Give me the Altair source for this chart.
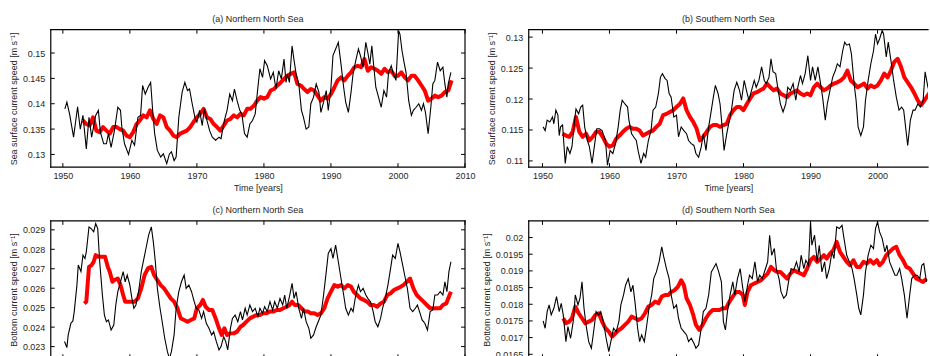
import altair as alt
import pandas as pd

# ---------------- data (year, speed) ----------------
A_BLACK = [(1950.3,0.1390),(1950.6,0.1403),(1951.0,0.1380),(1951.6,0.1334),(1952.2,0.1394),(1952.6,0.1350),
(1953.0,0.1377),(1953.5,0.1311),(1953.9,0.1373),(1954.3,0.1334),(1954.9,0.1377),(1955.3,0.1387),(1955.6,0.1344),
(1956.1,0.1321),(1956.5,0.1321),(1956.8,0.1341),(1957.2,0.1314),(1957.7,0.1347),(1958.2,0.1393),(1958.6,0.1387),
(1958.8,0.1354),(1959.2,0.1321),(1959.8,0.1300),(1960.3,0.1328),(1960.7,0.1318),(1961.2,0.1373),(1961.6,0.1377),
(1961.9,0.1436),(1962.3,0.1419),(1962.7,0.1432),(1963.1,0.1442),(1963.4,0.1387),(1963.7,0.1341),(1964.1,0.1308),
(1964.6,0.1295),(1965.0,0.1301),(1965.5,0.1282),(1965.9,0.1301),(1966.2,0.1305),(1966.6,0.1288),(1966.9,0.1295),
(1967.3,0.1373),(1967.8,0.1423),(1968.2,0.1442),(1968.6,0.1426),(1968.9,0.1429),(1969.3,0.1400),(1969.7,0.1373),
(1970.0,0.1364),(1970.4,0.1387),(1970.8,0.1357),(1971.1,0.1390),(1971.5,0.1367),(1971.9,0.1347),(1972.3,0.1334),
(1972.8,0.1328),(1973.3,0.1334),(1973.6,0.1331),(1974.1,0.1367),(1974.5,0.1387),(1974.9,0.1419),(1975.3,0.1406),
(1975.6,0.1429),(1976.0,0.1406),(1976.4,0.1387),(1976.7,0.1380),(1977.1,0.1341),(1977.5,0.1334),(1977.9,0.1360),
(1978.3,0.1367),(1978.7,0.1380),(1979.1,0.1432),(1979.4,0.1469),(1979.8,0.1452),(1980.1,0.1485),(1980.5,0.1475),
(1981.0,0.1449),(1981.4,0.1462),(1981.8,0.1429),(1982.2,0.1465),(1982.6,0.1449),(1983.0,0.1488),(1983.3,0.1442),
(1983.5,0.1459),(1983.8,0.1442),(1984.2,0.1514),(1984.5,0.1485),(1984.8,0.1459),(1985.2,0.1439),(1985.6,0.1387),
(1985.9,0.1373),(1986.3,0.1350),(1986.7,0.1354),(1987.0,0.1400),(1987.4,0.1413),(1987.8,0.1439),(1988.2,0.1423),
(1988.5,0.1383),(1988.9,0.1403),(1989.3,0.1426),(1989.6,0.1387),(1990.0,0.1432),(1990.3,0.1495),(1990.7,0.1508),
(1991.1,0.1521),(1991.5,0.1478),(1991.9,0.1432),(1992.2,0.1403),(1992.6,0.1383),(1993.0,0.1423),(1993.3,0.1459),
(1993.7,0.1485),(1994.1,0.1508),(1994.4,0.1495),(1994.8,0.1472),(1995.2,0.1521),(1995.5,0.1501),(1995.8,0.1478),
(1996.1,0.1514),(1996.4,0.1472),(1996.7,0.1432),(1997.1,0.1413),(1997.5,0.1393),(1997.9,0.1426),(1998.3,0.1413),
(1998.6,0.1462),(1999.0,0.1475),(1999.3,0.1459),(1999.7,0.1446),(2000.1,0.1544),(2000.3,0.1537),(2000.6,0.1505),
(2000.9,0.1482),(2001.2,0.1462),(2001.6,0.1406),(2002.0,0.1377),(2002.3,0.1387),(2002.7,0.1393),(2003.1,0.1400),
(2003.5,0.1387),(2003.8,0.1400),(2004.1,0.1383),(2004.5,0.1341),(2004.9,0.1393),(2005.2,0.1439),(2005.5,0.1446),
(2005.9,0.1482),(2006.3,0.1465),(2006.7,0.1472),(2007.0,0.1439),(2007.3,0.1413),(2007.5,0.1439),(2007.9,0.1462)]

A_RED = [(1953.0,0.1367),(1953.5,0.1360),(1954.0,0.1357),(1954.5,0.1373),(1955.0,0.1347),(1955.5,0.1344),
(1956.0,0.1354),(1956.5,0.1347),(1957.0,0.1341),(1957.5,0.1354),(1958.0,0.1354),(1958.5,0.1350),(1959.0,0.1347),
(1959.5,0.1337),(1960.0,0.1334),(1960.5,0.1344),(1961.0,0.1360),(1961.5,0.1367),(1962.0,0.1377),(1962.5,0.1373),
(1963.0,0.1387),(1963.5,0.1370),(1964.0,0.1360),(1964.5,0.1377),(1965.0,0.1373),(1965.5,0.1354),(1966.0,0.1347),
(1966.5,0.1337),(1967.0,0.1334),(1967.5,0.1341),(1968.0,0.1344),(1968.5,0.1347),(1969.0,0.1354),(1969.5,0.1364),
(1970.0,0.1373),(1970.5,0.1380),(1971.0,0.1390),(1971.5,0.1373),(1972.0,0.1370),(1972.5,0.1360),(1973.0,0.1354),
(1973.5,0.1347),(1974.0,0.1357),(1974.5,0.1367),(1975.0,0.1370),(1975.5,0.1377),(1976.0,0.1373),(1976.5,0.1380),
(1977.0,0.1377),(1977.5,0.1390),(1978.0,0.1390),(1978.5,0.1396),(1979.0,0.1406),(1979.5,0.1413),(1980.0,0.1410),
(1980.5,0.1413),(1981.0,0.1426),(1981.5,0.1429),(1982.0,0.1436),(1982.5,0.1442),(1983.0,0.1449),(1983.5,0.1455),
(1984.0,0.1459),(1984.5,0.1462),(1985.0,0.1439),(1985.5,0.1436),(1986.0,0.1429),(1986.5,0.1423),(1987.0,0.1429),
(1987.5,0.1426),(1988.0,0.1416),(1988.5,0.1406),(1989.0,0.1413),(1989.5,0.1410),(1990.0,0.1419),(1990.5,0.1432),
(1991.0,0.1446),(1991.5,0.1452),(1992.0,0.1446),(1992.5,0.1455),(1993.0,0.1462),(1993.5,0.1472),(1994.0,0.1475),
(1994.5,0.1472),(1995.0,0.1488),(1995.5,0.1465),(1996.0,0.1472),(1996.5,0.1469),(1997.0,0.1465),(1997.5,0.1459),
(1998.0,0.1469),(1998.5,0.1462),(1999.0,0.1465),(1999.5,0.1455),(2000.0,0.1455),(2000.5,0.1462),(2001.0,0.1452),
(2001.5,0.1446),(2002.0,0.1455),(2002.5,0.1455),(2003.0,0.1446),(2003.5,0.1436),(2004.0,0.1426),(2004.5,0.1406),
(2005.0,0.1410),(2005.5,0.1416),(2006.0,0.1413),(2006.5,0.1416),(2007.0,0.1423),(2007.5,0.1426),(2008.0,0.1446)]

B_BLACK = [(1950.1,0.1155),(1950.4,0.1149),(1950.7,0.1166),(1951.1,0.1163),(1951.5,0.1171),(1951.7,0.1160),
(1952.0,0.1182),(1952.3,0.1174),(1952.5,0.1141),(1952.7,0.1155),(1953.0,0.1158),(1953.4,0.1096),(1953.7,0.1123),
(1954.1,0.1112),(1954.4,0.1123),(1954.8,0.1166),(1955.0,0.1184),(1955.4,0.1176),(1955.7,0.1187),(1956.0,0.1190),
(1956.3,0.1155),(1956.7,0.1133),(1957.0,0.1123),(1957.4,0.1096),(1957.8,0.1128),(1958.1,0.1152),(1958.5,0.1152),
(1958.9,0.1149),(1959.4,0.1133),(1959.7,0.1093),(1960.1,0.1117),(1960.5,0.1112),(1960.9,0.1128),(1961.3,0.1155),
(1961.6,0.1182),(1961.9,0.1198),(1962.3,0.1192),(1962.7,0.1187),(1962.9,0.1166),(1963.3,0.1144),(1963.6,0.1139),
(1964.0,0.1133),(1964.3,0.1115),(1964.7,0.1096),(1965.1,0.1112),(1965.4,0.1106),(1965.8,0.1133),(1966.2,0.1149),
(1966.5,0.1182),(1966.9,0.1187),(1967.3,0.1209),(1967.6,0.1235),(1967.9,0.1241),(1968.3,0.1233),(1968.6,0.1230),
(1968.9,0.1209),(1969.2,0.1203),(1969.6,0.1171),(1970.0,0.1174),(1970.3,0.1139),(1970.7,0.1155),(1971.1,0.1149),
(1971.5,0.1144),(1971.8,0.1133),(1972.2,0.1128),(1972.6,0.1125),(1972.9,0.1112),(1973.3,0.1106),(1973.7,0.1123),
(1974.0,0.1144),(1974.4,0.1117),(1974.8,0.1155),(1975.2,0.1182),(1975.5,0.1203),(1975.8,0.1222),(1976.2,0.1209),
(1976.5,0.1192),(1976.9,0.1144),(1977.1,0.1117),(1977.5,0.1144),(1977.9,0.1166),(1978.2,0.1182),(1978.6,0.1214),
(1979.0,0.1227),(1979.4,0.1214),(1979.7,0.1198),(1980.1,0.1230),(1980.5,0.1211),(1980.8,0.1198),(1981.2,0.1214),
(1981.6,0.1230),(1981.9,0.1219),(1982.3,0.1230),(1982.7,0.1252),(1983.1,0.1230),(1983.4,0.1225),(1983.8,0.1235),
(1984.1,0.1265),(1984.4,0.1244),(1984.8,0.1241),(1985.1,0.1219),(1985.5,0.1192),(1985.9,0.1179),(1986.3,0.1192),
(1986.6,0.1219),(1987.0,0.1214),(1987.4,0.1225),(1987.8,0.1198),(1988.1,0.1219),(1988.5,0.1238),(1988.8,0.1225),
(1989.2,0.1241),(1989.6,0.1270),(1990.0,0.1230),(1990.3,0.1252),(1990.7,0.1230),(1991.1,0.1252),(1991.5,0.1225),
(1991.8,0.1203),(1992.2,0.1166),(1992.5,0.1192),(1992.9,0.1214),(1993.3,0.1235),(1993.7,0.1246),(1994.0,0.1257),
(1994.4,0.1252),(1994.8,0.1278),(1995.1,0.1292),(1995.4,0.1287),(1995.8,0.1289),(1996.1,0.1273),(1996.5,0.1225),
(1996.8,0.1198),(1997.1,0.1155),(1997.5,0.1141),(1997.9,0.1155),(1998.2,0.1198),(1998.6,0.1230),(1999.0,0.1257),
(1999.4,0.1278),(1999.7,0.1305),(2000.0,0.1289),(2000.3,0.1297),(2000.7,0.1311),(2000.9,0.1305),(2001.3,0.1268),
(2001.6,0.1292),(2002.0,0.1262),(2002.4,0.1230),(2002.8,0.1203),(2003.2,0.1182),(2003.6,0.1187),(2003.9,0.1182),
(2004.3,0.1144),(2004.5,0.1125),(2004.9,0.1166),(2005.3,0.1182),(2005.6,0.1182),(2006.0,0.1192),(2006.4,0.1187),
(2006.8,0.1198),(2007.1,0.1244),(2007.5,0.1220),(2007.9,0.1205)]

B_RED = [(1953.0,0.1144),(1953.5,0.1141),(1954.0,0.1139),(1954.5,0.1147),(1955.0,0.1171),(1955.5,0.1147),
(1956.0,0.1139),(1956.5,0.1144),(1957.0,0.1133),(1957.5,0.1139),(1958.0,0.1147),(1958.5,0.1147),(1959.0,0.1139),
(1959.5,0.1128),(1960.0,0.1123),(1960.5,0.1125),(1961.0,0.1136),(1961.5,0.1141),(1962.0,0.1147),(1962.5,0.1152),
(1963.0,0.1155),(1963.5,0.1152),(1964.0,0.1152),(1964.5,0.1149),(1965.0,0.1141),(1965.5,0.1144),(1966.0,0.1147),
(1966.5,0.1149),(1967.0,0.1155),(1967.5,0.1160),(1968.0,0.1174),(1968.5,0.1176),(1969.0,0.1179),(1969.5,0.1182),
(1970.0,0.1187),(1970.5,0.1192),(1971.0,0.1201),(1971.5,0.1182),(1972.0,0.1171),(1972.5,0.1163),(1973.0,0.1152),
(1973.5,0.1133),(1974.0,0.1139),(1974.5,0.1147),(1975.0,0.1155),(1975.5,0.1158),(1976.0,0.1158),(1976.5,0.1155),
(1977.0,0.1158),(1977.5,0.1160),(1978.0,0.1174),(1978.5,0.1182),(1979.0,0.1187),(1979.5,0.1187),(1980.0,0.1182),
(1980.5,0.1192),(1981.0,0.1201),(1981.5,0.1209),(1982.0,0.1211),(1982.5,0.1214),(1983.0,0.1217),(1983.5,0.1225),
(1984.0,0.1219),(1984.5,0.1214),(1985.0,0.1217),(1985.5,0.1209),(1986.0,0.1206),(1986.5,0.1203),(1987.0,0.1209),
(1987.5,0.1211),(1988.0,0.1214),(1988.5,0.1209),(1989.0,0.1206),(1989.5,0.1209),(1990.0,0.1206),(1990.5,0.1219),
(1991.0,0.1225),(1991.5,0.1219),(1992.0,0.1214),(1992.5,0.1217),(1993.0,0.1222),(1993.5,0.1225),(1994.0,0.1227),
(1994.5,0.1230),(1995.0,0.1235),(1995.5,0.1246),(1996.0,0.1230),(1996.5,0.1225),(1997.0,0.1219),(1997.5,0.1222),
(1998.0,0.1225),(1998.5,0.1217),(1999.0,0.1222),(1999.5,0.1219),(2000.0,0.1222),(2000.5,0.1230),(2001.0,0.1241),
(2001.5,0.1235),(2002.0,0.1246),(2002.5,0.1260),(2003.0,0.1265),(2003.5,0.1252),(2004.0,0.1235),(2004.5,0.1227),
(2005.0,0.1219),(2005.5,0.1209),(2006.0,0.1198),(2006.5,0.1190),(2007.0,0.1198),(2007.5,0.1206),(2008.0,0.1214)]

C_BLACK = [(1950.25,0.02326),(1950.6,0.02295),(1950.8,0.0236),(1951.2,0.0242),(1951.5,0.02432),(1951.7,0.0248),
(1952.1,0.02616),(1952.3,0.02719),(1952.7,0.02685),(1953.0,0.0277),(1953.3,0.02753),(1953.5,0.02787),(1953.9,0.02915),
(1954.2,0.02907),(1954.6,0.0289),(1954.9,0.02932),(1955.2,0.02907),(1955.5,0.02736),(1955.9,0.02565),(1956.2,0.02462),
(1956.5,0.02428),(1956.8,0.02437),(1957.2,0.02385),(1957.6,0.02411),(1957.9,0.02514),(1958.2,0.02582),(1958.6,0.02633),
(1959.0,0.02685),(1959.3,0.02633),(1959.6,0.02668),(1960.0,0.02616),(1960.3,0.02548),(1960.6,0.02497),(1960.9,0.02514),
(1961.3,0.02582),(1961.7,0.02685),(1962.1,0.02753),(1962.4,0.02804),(1962.8,0.02873),(1963.2,0.02915),(1963.5,0.02838),
(1963.8,0.02736),(1964.1,0.02599),(1964.5,0.02497),(1964.9,0.02411),(1965.2,0.02343),(1965.6,0.02274),(1965.9,0.0224),
(1966.2,0.02274),(1966.6,0.0236),(1966.9,0.02497),(1967.3,0.02582),(1967.7,0.02633),(1968.1,0.02668),(1968.4,0.02599),
(1968.8,0.02616),(1969.2,0.02582),(1969.6,0.02531),(1969.9,0.02497),(1970.3,0.02488),(1970.7,0.02445),(1971.0,0.0248),
(1971.4,0.0242),(1971.8,0.02394),(1972.2,0.0236),(1972.5,0.02377),(1972.9,0.02326),(1973.3,0.02283),(1973.6,0.023),
(1974.0,0.02351),(1974.3,0.02326),(1974.6,0.02283),(1975.0,0.02394),(1975.3,0.02445),(1975.7,0.02462),(1976.1,0.02428),
(1976.5,0.0248),(1976.8,0.02437),(1977.2,0.02497),(1977.5,0.02462),(1977.9,0.02514),(1978.3,0.0248),(1978.7,0.02497),
(1979.1,0.02454),(1979.4,0.02497),(1979.8,0.02471),(1980.1,0.02505),(1980.5,0.0248),(1980.9,0.02531),(1981.3,0.02488),
(1981.6,0.02531),(1982.0,0.02497),(1982.4,0.02548),(1982.8,0.02514),(1983.1,0.02565),(1983.4,0.02497),(1983.8,0.02556),
(1984.2,0.02625),(1984.5,0.02548),(1984.8,0.02582),(1985.2,0.02497),(1985.6,0.02445),(1985.9,0.02497),(1986.3,0.02428),
(1986.7,0.02394),(1987.0,0.02343),(1987.4,0.0236),(1987.8,0.02402),(1988.1,0.02428),(1988.5,0.02462),(1988.9,0.02565),
(1989.3,0.02685),(1989.6,0.02779),(1990.0,0.02804),(1990.3,0.02753),(1990.7,0.02821),(1991.1,0.02736),(1991.5,0.0265),
(1991.9,0.02565),(1992.2,0.02497),(1992.6,0.02462),(1993.0,0.02497),(1993.3,0.0248),(1993.7,0.02565),(1994.1,0.02616),
(1994.4,0.02582),(1994.8,0.02599),(1995.2,0.02565),(1995.5,0.02548),(1995.9,0.02531),(1996.3,0.0248),(1996.6,0.02428),
(1997.0,0.02402),(1997.4,0.02445),(1997.7,0.02497),(1998.1,0.02548),(1998.5,0.02616),(1998.9,0.02702),(1999.2,0.0277),
(1999.6,0.02753),(2000.0,0.0283),(2000.3,0.02787),(2000.7,0.02719),(2001.1,0.0265),(2001.4,0.02599),(2001.8,0.02497),
(2002.2,0.0248),(2002.6,0.02497),(2002.9,0.02514),(2003.3,0.02471),(2003.6,0.02437),(2004.0,0.0242),(2004.4,0.02385),
(2004.8,0.0248),(2005.2,0.02488),(2005.5,0.02565),(2005.9,0.02565),(2006.3,0.02582),(2006.7,0.02565),(2007.0,0.02633),
(2007.3,0.02582),(2007.6,0.02685),(2007.9,0.02736)]

C_RED = [(1953.2,0.02522),(1953.5,0.02531),(1953.9,0.0271),(1954.3,0.02719),(1954.6,0.02736),(1954.9,0.0277),
(1955.3,0.02762),(1955.8,0.02762),(1956.3,0.02762),(1956.7,0.0271),(1957.0,0.02685),(1957.4,0.02633),(1957.7,0.02642),
(1958.2,0.0265),(1958.6,0.02616),(1959.0,0.02565),(1959.3,0.02531),(1959.7,0.02531),(1960.2,0.02531),(1960.7,0.02531),
(1961.2,0.02548),(1961.7,0.02599),(1962.2,0.02668),(1962.7,0.02702),(1963.2,0.0271),(1963.6,0.02668),(1964.1,0.02642),
(1964.6,0.02616),(1965.1,0.02599),(1965.6,0.02574),(1966.1,0.02548),(1966.6,0.02531),(1967.1,0.02497),(1967.6,0.02445),
(1968.1,0.02437),(1968.6,0.02428),(1969.1,0.02437),(1969.6,0.02445),(1970.0,0.02497),(1970.5,0.02514),(1970.9,0.0254),
(1971.3,0.02505),(1971.8,0.02488),(1972.3,0.02488),(1972.8,0.02445),(1973.3,0.02394),(1973.7,0.0236),(1974.1,0.02394),
(1974.5,0.0236),(1975.0,0.02368),(1975.5,0.02368),(1976.0,0.02377),(1976.5,0.02402),(1976.9,0.02411),(1977.4,0.02428),
(1977.9,0.02445),(1978.4,0.02454),(1978.9,0.02462),(1979.4,0.02462),(1979.9,0.02471),(1980.4,0.02471),(1980.9,0.0248),
(1981.4,0.0248),(1981.9,0.02488),(1982.4,0.02488),(1982.9,0.02497),(1983.4,0.02505),(1983.8,0.02514),(1984.2,0.02531),
(1984.6,0.02514),(1985.1,0.02514),(1985.6,0.02497),(1986.1,0.0248),(1986.6,0.0248),(1987.0,0.02471),(1987.5,0.02471),
(1988.0,0.02462),(1988.5,0.02471),(1989.0,0.02497),(1989.5,0.02548),(1990.0,0.02582),(1990.5,0.02616),(1991.0,0.02608),
(1991.5,0.02616),(1992.0,0.02599),(1992.5,0.02616),(1993.0,0.02608),(1993.4,0.02582),(1993.9,0.02565),(1994.4,0.02548),
(1994.9,0.0254),(1995.4,0.02531),(1995.9,0.02514),(1996.4,0.02514),(1996.9,0.02505),(1997.4,0.02522),(1997.9,0.02531),
(1998.4,0.02565),(1998.9,0.02574),(1999.4,0.02591),(1999.9,0.02599),(2000.4,0.02608),(2000.8,0.02616),(2001.3,0.02633),
(2001.8,0.0265),(2002.3,0.02599),(2002.8,0.02565),(2003.3,0.02548),(2003.8,0.02531),(2004.3,0.02514),(2004.8,0.02497),
(2005.3,0.02497),(2005.8,0.02497),(2006.3,0.02497),(2006.7,0.02514),(2007.2,0.02522),(2007.7,0.02565),(2007.9,0.02582)]

D_BLACK = [(1950.1,0.0175),(1950.4,0.01728),(1950.7,0.01778),(1951.0,0.01798),(1951.3,0.01768),(1951.7,0.01788),
(1952.1,0.01823),(1952.5,0.01778),(1952.8,0.01803),(1953.1,0.01768),(1953.5,0.01688),(1953.8,0.01733),(1954.2,0.01698),
(1954.6,0.0175),(1954.9,0.01828),(1955.3,0.01798),(1955.6,0.01818),(1955.9,0.01867),(1956.2,0.01788),(1956.5,0.01738),
(1956.9,0.01688),(1957.3,0.01668),(1957.7,0.01728),(1958.0,0.01778),(1958.4,0.01768),(1958.7,0.01778),(1959.1,0.01748),
(1959.5,0.01698),(1959.9,0.01658),(1960.2,0.01688),(1960.6,0.01728),(1961.0,0.01718),(1961.4,0.01748),(1961.7,0.01798),
(1962.1,0.01828),(1962.4,0.01857),(1962.8,0.01877),(1963.2,0.01837),(1963.5,0.01857),(1963.8,0.01808),(1964.2,0.01728),
(1964.5,0.01688),(1964.8,0.01708),(1965.2,0.01688),(1965.5,0.01728),(1965.9,0.01788),(1966.3,0.01828),(1966.6,0.01877),
(1967.0,0.01897),(1967.4,0.01927),(1967.8,0.01972),(1968.1,0.01942),(1968.5,0.01907),(1968.9,0.01877),(1969.2,0.01828),
(1969.6,0.01788),(1970.0,0.01798),(1970.3,0.01758),(1970.7,0.01728),(1971.1,0.01718),(1971.5,0.01708),(1971.8,0.01688),
(1972.2,0.01698),(1972.6,0.01683),(1972.9,0.01668),(1973.3,0.01678),(1973.7,0.01728),(1974.0,0.01778),(1974.4,0.01788),
(1974.8,0.01828),(1975.2,0.01897),(1975.5,0.01907),(1975.9,0.01922),(1976.3,0.01897),(1976.7,0.01867),(1977.0,0.01748),
(1977.3,0.01723),(1977.6,0.01778),(1978.0,0.01828),(1978.4,0.01867),(1978.7,0.01828),(1979.1,0.01877),(1979.5,0.01907),
(1979.9,0.01847),(1980.2,0.01808),(1980.6,0.01857),(1980.9,0.01887),(1981.3,0.01877),(1981.7,0.01927),(1982.1,0.01867),
(1982.4,0.01887),(1982.8,0.01877),(1983.2,0.01902),(1983.6,0.01927),(1983.9,0.02007),(1984.2,0.01947),(1984.6,0.01967),
(1984.9,0.01907),(1985.3,0.01877),(1985.6,0.01837),(1986.0,0.01818),(1986.4,0.01828),(1986.8,0.01877),(1987.1,0.01907),
(1987.5,0.01902),(1987.9,0.01927),(1988.3,0.01897),(1988.6,0.01947),(1989.0,0.01907),(1989.3,0.01932),(1989.7,0.01917),
(1990.0,0.02047),(1990.2,0.01977),(1990.6,0.02007),(1991.0,0.01927),(1991.3,0.01977),(1991.7,0.01897),(1992.1,0.01927),
(1992.4,0.01877),(1992.8,0.01907),(1993.2,0.01957),(1993.5,0.01937),(1993.9,0.02032),(1994.3,0.02027),(1994.7,0.02037),
(1995.0,0.01997),(1995.4,0.01947),(1995.8,0.01927),(1996.2,0.01907),(1996.5,0.01877),(1996.9,0.01828),(1997.2,0.01788),
(1997.5,0.01768),(1997.9,0.01828),(1998.2,0.01897),(1998.6,0.01947),(1999.0,0.01977),(1999.4,0.01967),(1999.7,0.02027),
(2000.0,0.02047),(2000.3,0.02017),(2000.7,0.01997),(2001.1,0.01957),(2001.4,0.01977),(2001.8,0.01927),(2002.2,0.01907),
(2002.6,0.01887),(2002.9,0.01887),(2003.3,0.01907),(2003.6,0.01877),(2004.0,0.01828),(2004.4,0.01758),(2004.8,0.01828),
(2005.1,0.01877),(2005.5,0.01887),(2005.9,0.01887),(2006.3,0.01877),(2006.6,0.01917),(2006.9,0.01922),(2007.3,0.01867)]

D_RED = [(1953.1,0.01758),(1953.5,0.01743),(1954.0,0.01748),(1954.4,0.01758),(1954.9,0.01793),(1955.4,0.01773),
(1955.9,0.01758),(1956.4,0.01743),(1956.9,0.01748),(1957.4,0.01753),(1957.9,0.01768),(1958.4,0.01773),(1958.9,0.01748),
(1959.4,0.01728),(1959.9,0.01718),(1960.4,0.01703),(1960.9,0.01713),(1961.4,0.01723),(1961.8,0.01728),(1962.3,0.01738),
(1962.8,0.01748),(1963.3,0.01763),(1963.8,0.01758),(1964.3,0.01753),(1964.8,0.01758),(1965.3,0.01773),(1965.8,0.01793),
(1966.3,0.01798),(1966.8,0.01808),(1967.3,0.01803),(1967.8,0.01823),(1968.3,0.01828),(1968.8,0.01828),(1969.2,0.01837),
(1969.7,0.01842),(1970.2,0.01852),(1970.7,0.01872),(1971.1,0.01857),(1971.5,0.01818),(1972.0,0.01798),(1972.5,0.01768),
(1972.9,0.01738),(1973.4,0.01723),(1973.9,0.01738),(1974.4,0.01758),(1974.9,0.01773),(1975.4,0.01783),(1975.9,0.01783),
(1976.4,0.01783),(1976.9,0.01788),(1977.4,0.01788),(1977.9,0.01808),(1978.4,0.01823),(1978.9,0.01837),(1979.4,0.01837),
(1979.9,0.01828),(1980.2,0.01798),(1980.6,0.01837),(1981.1,0.01857),(1981.6,0.01862),(1982.1,0.01867),(1982.6,0.01872),
(1983.1,0.01882),(1983.6,0.01892),(1984.1,0.01912),(1984.6,0.01902),(1985.0,0.01897),(1985.5,0.01897),(1986.0,0.01887),
(1986.5,0.01877),(1987.0,0.01892),(1987.5,0.01902),(1988.0,0.01897),(1988.5,0.01892),(1989.0,0.01887),(1989.5,0.01907),
(1990.0,0.01932),(1990.5,0.01942),(1991.0,0.01927),(1991.5,0.01937),(1992.0,0.01947),(1992.4,0.01937),(1992.9,0.01952),
(1993.4,0.01962),(1993.9,0.01987),(1994.4,0.01957),(1994.9,0.01942),(1995.4,0.01927),(1995.9,0.01917),(1996.4,0.01932),
(1996.9,0.01912),(1997.4,0.01912),(1997.9,0.01927),(1998.4,0.01922),(1998.9,0.01932),(1999.4,0.01922),(1999.9,0.01932),
(2000.3,0.01917),(2000.8,0.01927),(2001.3,0.01947),(2001.8,0.01957),(2002.3,0.01967),(2002.8,0.01972),(2003.3,0.01947),
(2003.8,0.01932),(2004.3,0.01912),(2004.8,0.01907),(2005.3,0.01892),(2005.8,0.01877),(2006.3,0.01872),(2006.8,0.01867),
(2007.3,0.01877)]

X_TICKS = [1950, 1960, 1970, 1980, 1990, 2000, 2010]
A_TICKS = [0.13, 0.135, 0.14, 0.145, 0.15]
B_TICKS = [0.11, 0.115, 0.12, 0.125, 0.13]
C_TICKS = [0.023, 0.024, 0.025, 0.026, 0.027, 0.028, 0.029]
D_TICKS = [0.0165, 0.017, 0.0175, 0.018, 0.0185, 0.019, 0.0195, 0.02]

TITLES = ["(a) Northern North Sea", "(b) Southern North Sea",
          "(c) Northern North Sea", "(d) Southern North Sea"]
SURF_TITLE = "Sea surface current speed [m s\u207b\u00b9]"
BOT_TITLE = "Bottom current speed [m s\u207b\u00b9]"
X_TITLE = "Time [years]"

# ---------------- layout / style ----------------
W_L, W_R, H = 416, 401, 138          # left panels full, right panels cut at window edge
XDOM_L = [1948.2, 2010.0]
XDOM_R = [1947.95, 2007.53]
TXT = "#262626"
FONT = "Liberation Sans"
TL = 4    # inward tick length
FW = 1.2  # frame width
ONE = pd.DataFrame({"k": [0]})


def panel(black, red, xdom, w, ydom, yticks, title, ytitle, right_edge):
    xs = alt.Scale(domain=xdom, nice=False, zero=False)
    ys = alt.Scale(domain=ydom, nice=False, zero=False)
    dfb = pd.DataFrame(black, columns=["year", "v"])
    dfr = pd.DataFrame(red, columns=["year", "v"])
    xaxis = alt.Axis(values=X_TICKS, format="d", title=X_TITLE, ticks=False, tickSize=0,
                     domain=False, grid=False, labelPadding=4, titlePadding=3,
                     labelFlush=False)
    yaxis = alt.Axis(values=yticks, format="~g", title=ytitle, ticks=False, tickSize=0,
                     domain=False, grid=False, labelPadding=6, titlePadding=4)
    X = lambda: alt.X("year:Q", scale=xs, axis=xaxis, title=X_TITLE)
    Y = lambda: alt.Y("v:Q", scale=ys, axis=yaxis, title=ytitle)
    red_l = alt.Chart(dfr).mark_line(color="#ff0000", strokeWidth=4, clip=True,
                                     strokeJoin="round").encode(x=X(), y=Y())
    blk_l = alt.Chart(dfb).mark_line(color="black", strokeWidth=1.1, clip=True).encode(
        x=X(), y=Y())
    xt = pd.DataFrame({"year": [t for t in X_TICKS if xdom[0] <= t <= xdom[1]]})
    yt = pd.DataFrame({"v": [t for t in yticks if ydom[0] <= t <= ydom[1]]})
    tk = dict(color="black", strokeWidth=1)
    layers = [
        red_l, blk_l,
        alt.Chart(xt).mark_rule(**tk).encode(x=X(), y=alt.value(0), y2=alt.value(TL)),
        alt.Chart(xt).mark_rule(**tk).encode(x=X(), y=alt.value(H), y2=alt.value(H - TL)),
        alt.Chart(yt).mark_rule(**tk).encode(y=Y(), x=alt.value(0), x2=alt.value(TL)),
    ]
    fr = dict(color="black", strokeWidth=FW, strokeCap="square")
    layers += [
        alt.Chart(ONE).mark_rule(**fr).encode(x=alt.value(0), x2=alt.value(w), y=alt.value(0)),
        alt.Chart(ONE).mark_rule(**fr).encode(x=alt.value(0), x2=alt.value(w), y=alt.value(H)),
        alt.Chart(ONE).mark_rule(**fr).encode(x=alt.value(0), y=alt.value(0), y2=alt.value(H)),
    ]
    if right_edge:
        layers += [
            alt.Chart(yt).mark_rule(**tk).encode(y=Y(), x=alt.value(w), x2=alt.value(w - TL)),
            alt.Chart(ONE).mark_rule(**fr).encode(x=alt.value(w), y=alt.value(0), y2=alt.value(H)),
        ]
    return alt.layer(*layers).properties(
        width=w, height=H,
        title=alt.TitleParams(title, fontSize=9, fontWeight="normal", color=TXT,
                              font=FONT, offset=5, frame="group", anchor="middle"))


pa = panel(A_BLACK, A_RED, XDOM_L, W_L, [0.1275, 0.1546], A_TICKS, TITLES[0], SURF_TITLE, True)
pb = panel(B_BLACK, B_RED, XDOM_R, W_R, [0.1090, 0.1312], B_TICKS, TITLES[1], SURF_TITLE, False)
pc = panel(C_BLACK, C_RED, XDOM_L, W_L, [0.0224, 0.02946], C_TICKS, TITLES[2], BOT_TITLE, True)
pd_ = panel(D_BLACK, D_RED, XDOM_R, W_R, [0.01638, 0.0205], D_TICKS, TITLES[3], BOT_TITLE, False)

chart = alt.concat(pa, pb, pc, pd_, columns=2,
                   spacing={"row": 54, "column": 64}, bounds="flush").properties(
    padding={"left": 8, "top": 13, "right": 0, "bottom": 0},
    background="white",
).configure_view(stroke="transparent").configure_axis(
    labelFont=FONT, titleFont=FONT, labelFontSize=9, titleFontSize=9,
    labelColor=TXT, titleColor=TXT, titleFontWeight="normal",
)

chart.save("out.html", embed_options={"renderer": "svg", "actions": False})
